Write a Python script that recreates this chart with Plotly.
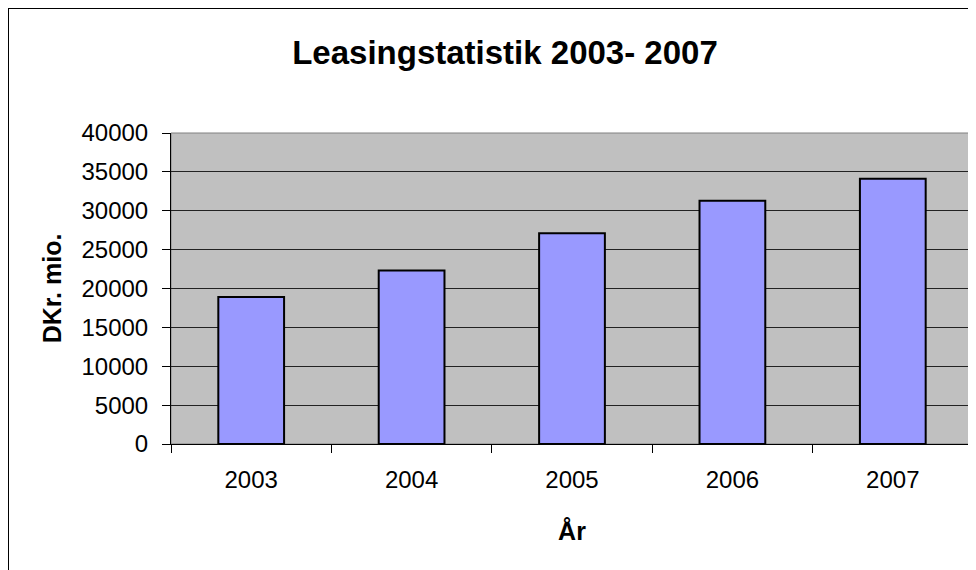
import plotly.graph_objects as go

years = ["2003", "2004", "2005", "2006", "2007"]
values = [18900, 22300, 27100, 31300, 34100]
y_ticks = [0, 5000, 10000, 15000, 20000, 25000, 30000, 35000, 40000]

# page body adds an 8px offset; figure coords = reference coords - 8
W, H = 976, 570
L, R, T, B = 163, 11, 125, 134
pw = W - L - R
ph = H - T - B

def px_x(p):
    return (p - L) / pw

def px_y(p):
    return (H - B - p) / ph

fig = go.Figure(go.Bar(
    x=years, y=values,
    marker=dict(color="#9999FF", line=dict(color="#000000", width=2)),
    width=0.41,
))

fig.update_layout(
    width=W, height=H,
    margin=dict(l=L, r=R, t=T, b=B),
    paper_bgcolor="white",
    plot_bgcolor="#C0C0C0",
    showlegend=False,
    font=dict(family="Liberation Sans, Arial, sans-serif", color="#000000"),
    title=dict(
        text="<b>Leasingstatistik 2003- 2007</b>",
        x=497 / W, xanchor="center", xref="container",
        y=1 - 44 / H, yanchor="middle",
        font=dict(size=33, color="#000000"),
    ),
    xaxis=dict(
        type="category",
        tickson="boundaries",
        ticks="outside", ticklen=8, tickcolor="#000000", tickwidth=1,
        showline=True, linecolor="#000000", linewidth=1,
        showgrid=False,
        tickfont=dict(size=24),
        ticklabelstandoff=14,
        title=dict(text="<b>År</b>", font=dict(size=25), standoff=30),
    ),
    yaxis=dict(
        range=[0, 40000],
        tickvals=y_ticks,
        ticktext=[str(v) for v in y_ticks],
        ticks="outside", ticklen=8, tickcolor="#000000", tickwidth=1,
        showline=True, linecolor="#000000", linewidth=1,
        showgrid=True, gridcolor="#222222", gridwidth=1,
        zeroline=False,
        tickfont=dict(size=24),
        ticklabelstandoff=9,
        title=dict(text="<b>DKr. mio.</b>", font=dict(size=25), standoff=12),
    ),
    shapes=[
        dict(type="rect", xref="paper", yref="paper",
             x0=0, x1=1, y0=0, y1=1,
             line=dict(color="#808080", width=1), layer="below"),
        dict(type="rect", xref="paper", yref="paper",
             x0=px_x(0), x1=px_x(W + 20), y0=px_y(H + 20), y1=px_y(0),
             line=dict(color="#000000", width=2)),
    ],
)

fig.write_html("out.html")
